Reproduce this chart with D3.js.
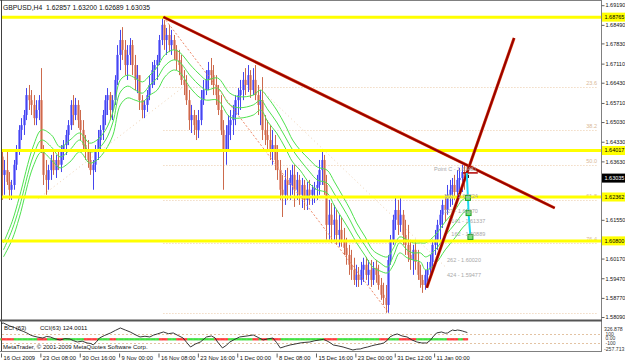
<!DOCTYPE html>
<html>
<head>
<meta charset="utf-8">
<title>GBPUSD,H4</title>
<script src="https://cdn.jsdelivr.net/npm/d3@7"></script>
<style>
  body { margin: 0; background: #fff; }
  svg { display: block; font-family: "Liberation Sans", Arial, sans-serif; }
</style>
</head>
<body>
<svg id="chart" width="625" height="363"></svg>
<script>
// H4 bars, two bars per candle (bar index 2j .. 2j+1)
const firstOpen = 1.6380;
const highs = [
  1.6404,1.6368,1.6404,1.6325,1.6297,1.6368,1.6421,1.6492,1.6517,1.6546,
  1.6624,1.6635,1.6617,1.6599,1.6581,1.6599,1.6695,1.6421,1.6368,1.6351,
  1.6386,1.6404,1.6386,1.6404,1.6421,1.6439,1.6475,1.6510,1.6581,1.6599,
  1.6589,1.6581,1.6546,1.6510,1.6457,1.6439,1.6404,1.6368,1.6421,1.6475,
  1.6492,1.6546,1.6599,1.6624,1.6610,1.6599,1.6670,1.6777,1.6831,1.6841,
  1.6795,1.6777,1.6802,1.6795,1.6742,1.6706,1.6653,1.6599,1.6581,1.6617,
  1.6670,1.6717,1.6724,1.6742,1.6813,1.6877,1.6866,1.6838,1.6849,1.6831,
  1.6813,1.6777,1.6760,1.6742,1.6688,1.6670,1.6617,1.6564,1.6546,1.6528,
  1.6546,1.6617,1.6653,1.6688,1.6717,1.6731,1.6706,1.6670,1.6635,1.6599,
  1.6510,1.6492,1.6528,1.6546,1.6564,1.6599,1.6624,1.6653,1.6681,1.6695,
  1.6706,1.6688,1.6695,1.6706,1.6635,1.6617,1.6663,1.6528,1.6510,1.6492,
  1.6475,1.6457,1.6421,1.6368,1.6315,1.6332,1.6340,1.6332,1.6351,1.6351,
  1.6325,1.6315,1.6304,1.6297,1.6290,1.6297,1.6279,1.6290,1.6315,1.6368,
  1.6404,1.6386,1.6315,1.6226,1.6215,1.6208,1.6190,1.6173,1.6162,1.6126,
  1.6091,1.6066,1.6048,1.6020,1.5995,1.5987,1.6005,1.6020,1.6023,1.6012,
  1.6012,1.6005,1.6012,1.5995,1.5948,1.5931,1.5923,1.6030,1.6101,1.6173,
  1.6237,1.6226,1.6237,1.6190,1.6155,1.6137,1.6084,1.6066,1.6084,1.6048,
  1.5995,1.5959,1.5977,1.6005,1.6030,1.6084,1.6119,1.6155,1.6190,1.6226,
  1.6244,1.6279,1.6297,1.6304,1.6315,1.6332,1.6340,1.6351,1.6357,1.6345
];
const lows = [
  1.6226,1.6244,1.6279,1.6226,1.6226,1.6262,1.6332,1.6386,1.6439,1.6457,
  1.6510,1.6546,1.6528,1.6492,1.6492,1.6510,1.6393,1.6279,1.6244,1.6262,
  1.6297,1.6315,1.6304,1.6332,1.6325,1.6368,1.6386,1.6421,1.6475,1.6492,
  1.6510,1.6482,1.6439,1.6404,1.6368,1.6340,1.6315,1.6262,1.6325,1.6368,
  1.6404,1.6439,1.6492,1.6528,1.6510,1.6510,1.6564,1.6635,1.6688,1.6724,
  1.6670,1.6653,1.6706,1.6670,1.6617,1.6606,1.6546,1.6517,1.6517,1.6539,
  1.6581,1.6624,1.6635,1.6653,1.6706,1.6777,1.6760,1.6742,1.6752,1.6742,
  1.6724,1.6688,1.6670,1.6635,1.6599,1.6564,1.6475,1.6464,1.6457,1.6439,
  1.6446,1.6492,1.6564,1.6599,1.6617,1.6635,1.6599,1.6564,1.6528,1.6457,
  1.6262,1.6351,1.6404,1.6439,1.6457,1.6492,1.6528,1.6546,1.6581,1.6599,
  1.6610,1.6589,1.6599,1.6581,1.6528,1.6492,1.6439,1.6421,1.6404,1.6368,
  1.6351,1.6332,1.6297,1.6226,1.6165,1.6208,1.6226,1.6226,1.6244,1.6201,
  1.6226,1.6208,1.6197,1.6190,1.6190,1.6208,1.6208,1.6215,1.6226,1.6244,
  1.6279,1.6244,1.6084,1.6084,1.6073,1.6084,1.6066,1.6059,1.6059,1.6030,
  1.5995,1.5959,1.5941,1.5923,1.5916,1.5916,1.5923,1.5934,1.5941,1.5923,
  1.5916,1.5923,1.5931,1.5906,1.5870,1.5852,1.5824,1.5824,1.5995,1.6066,
  1.6119,1.6101,1.6112,1.6066,1.6030,1.6005,1.5977,1.5959,1.5977,1.5941,
  1.5913,1.5895,1.5906,1.5923,1.5941,1.5977,1.6030,1.6048,1.6084,1.6126,
  1.6148,1.6173,1.6201,1.6208,1.6226,1.6233,1.6244,1.6254,1.6262,1.6269
];
const closes = [
  1.6315,1.6332,1.6290,1.6262,1.6279,1.6351,1.6404,1.6475,1.6492,1.6528,
  1.6599,1.6581,1.6564,1.6517,1.6546,1.6581,1.6404,1.6315,1.6297,1.6332,
  1.6368,1.6332,1.6368,1.6351,1.6404,1.6421,1.6457,1.6492,1.6564,1.6528,
  1.6564,1.6510,1.6475,1.6421,1.6404,1.6368,1.6332,1.6351,1.6404,1.6439,
  1.6475,1.6528,1.6581,1.6599,1.6546,1.6581,1.6653,1.6742,1.6795,1.6760,
  1.6706,1.6742,1.6777,1.6706,1.6653,1.6670,1.6581,1.6546,1.6564,1.6599,
  1.6635,1.6688,1.6706,1.6724,1.6795,1.6849,1.6795,1.6813,1.6777,1.6795,
  1.6760,1.6724,1.6706,1.6653,1.6635,1.6581,1.6510,1.6528,1.6492,1.6475,
  1.6510,1.6581,1.6617,1.6653,1.6688,1.6670,1.6635,1.6599,1.6546,1.6475,
  1.6404,1.6457,1.6492,1.6510,1.6528,1.6581,1.6599,1.6617,1.6653,1.6635,
  1.6670,1.6617,1.6653,1.6599,1.6564,1.6581,1.6475,1.6457,1.6439,1.6404,
  1.6421,1.6368,1.6332,1.6262,1.6244,1.6297,1.6279,1.6304,1.6315,1.6262,
  1.6297,1.6244,1.6279,1.6226,1.6262,1.6244,1.6262,1.6269,1.6279,1.6332,
  1.6368,1.6279,1.6137,1.6173,1.6137,1.6155,1.6101,1.6119,1.6084,1.6055,
  1.6030,1.5995,1.5977,1.5941,1.5959,1.5941,1.5977,1.5995,1.5959,1.5977,
  1.5941,1.5984,1.5959,1.5923,1.5888,1.5877,1.5852,1.6012,1.6084,1.6155,
  1.6190,1.6137,1.6173,1.6101,1.6066,1.6030,1.6012,1.6048,1.6005,1.5959,
  1.5941,1.5923,1.5959,1.5977,1.6005,1.6066,1.6084,1.6137,1.6173,1.6208,
  1.6190,1.6244,1.6262,1.6279,1.6254,1.6297,1.6304,1.6325,1.6315,1.6304
];

// three green moving averages (bar index -> price)
const maBars = [2,9,15,26,33,41,48,56,64,72,78,85,91,97,103,109,115,121,127,133,140,145,154,162,167,176,186,194,205,211,217,224,231,237,243,251,257,265,271,278,284,289,296,302,308,314,319,324,330,335,341,345,353,361,369,375,380];
const maUpper = [1.6073,1.6148,1.6237,1.6414,1.6475,1.6457,1.6414,1.6439,1.6464,1.6428,1.6439,1.6475,1.6539,1.6653,1.6670,1.6660,1.6646,1.6670,1.6699,1.6742,1.6760,1.6752,1.6706,1.6670,1.6653,1.6660,1.6606,1.6593,1.6599,1.6617,1.6589,1.6546,1.6492,1.6439,1.6404,1.6368,1.6343,1.6332,1.6290,1.6237,1.6190,1.6144,1.6094,1.6048,1.6030,1.6023,1.6055,1.6094,1.6084,1.6073,1.6073,1.6073,1.6101,1.6148,1.6190,1.6226,1.6237];
const maMiddle = [1.6048,1.6119,1.6201,1.6379,1.6439,1.6414,1.6379,1.6404,1.6439,1.6397,1.6404,1.6439,1.6503,1.6610,1.6631,1.6617,1.6606,1.6635,1.6660,1.6702,1.6724,1.6717,1.6667,1.6631,1.6617,1.6624,1.6564,1.6554,1.6564,1.6581,1.6546,1.6503,1.6450,1.6404,1.6368,1.6325,1.6297,1.6286,1.6247,1.6197,1.6151,1.6108,1.6062,1.6023,1.6002,1.5987,1.6027,1.6073,1.6048,1.6037,1.6037,1.6023,1.6048,1.6098,1.6141,1.6176,1.6197];
const maLower = [1.6023,1.6084,1.6165,1.6343,1.6397,1.6368,1.6340,1.6361,1.6397,1.6357,1.6368,1.6404,1.6457,1.6564,1.6589,1.6581,1.6575,1.6599,1.6617,1.6663,1.6688,1.6681,1.6624,1.6589,1.6581,1.6581,1.6521,1.6517,1.6528,1.6546,1.6503,1.6464,1.6411,1.6361,1.6332,1.6283,1.6262,1.6251,1.6204,1.6155,1.6112,1.6073,1.6027,1.5987,1.5973,1.5966,1.5995,1.6037,1.6020,1.6012,1.6005,1.5977,1.5998,1.6048,1.6091,1.6126,1.6148];

// CCI(63) sub window
const cciBars = [0,2,5,7,11,15,18,21,24,26,30,34,37,40,44,48,52,56,59,62,66,70,73,75,78,80,84,89,93,97,101,105,109,113,117,121,124,127,132,136,140,144,148,151,154,158,162,167,171,174,176,180,183,186,190,194,200,205,209,213,217,221,224,227,231,235,239,243,247,251,255,259,262,265,268,270,274,278,282,286,289,292,295,298,301,304,308,311,314,316,319,322,326,330,334,338,342,346,349,351,354,358,361,363,365,367,369,371,373,375,377,379];
const cciValues = [320,325,290,264,230,178,150,115,70,51,25,8,40,30,-10,-34,-5,-13,-50,-77,-60,-98,-110,-140,-60,8,60,115,170,221,178,136,80,30,45,30,70,94,136,100,115,60,8,-90,-183,-120,-77,30,51,10,-77,-204,-150,-77,-20,30,51,72,20,-34,-10,8,-90,-204,-170,-140,-120,-98,-85,-77,-50,-34,-20,-55,-100,-140,-160,-183,-215,-247,-230,-225,-200,-183,-160,-140,-120,-98,-40,30,70,94,51,30,-34,-77,-98,-98,-40,30,115,136,110,115,150,178,165,178,170,157,140,124];
const cciMax = 326.878, cciMin = -257.713, cciNow = 124.0011;
const cciLevels = [100, 0, -100];
// BCI(63) red stretches (bar index ranges), green elsewhere
const bciRed = [[1,10],[30,37],[46,50],[68,78],[89,93],[129,135],[143,151],[174,184],[205,209],[212,216],[221,227],[263,273],[308,314],[324,337],[363,371],[376,379]];
const barCount = 380;

// axes
const timeLabels = ["16 Oct 2009","23 Oct 08:00","30 Oct 16:00","9 Nov 00:00","16 Nov 08:00","23 Nov 16:00","1 Dec 00:00","8 Dec 08:00","15 Dec 16:00","23 Dec 00:00","31 Dec 12:00","11 Jan 00:00"];
const barsPerLabel = 32;
const priceTicks = [1.69190,1.68490,1.67830,1.67110,1.66430,1.65710,1.65030,1.64330,1.63630,1.62950,1.62250,1.61550,1.60850,1.60170,1.59470,1.58770,1.58090];
const title = "GBPUSD,H4  1.62857 1.63200 1.62689 1.63035";
const lastPrice = 1.63035;

// objects
const yellowLevels = [1.68765, 1.64017, 1.62362, 1.60800];
const fibHigh = { bar: 132, price: 1.6877 };
const fibLow = { bar: 315, price: 1.5824 };
const fibLevels = [0, 23.6, 38.2, 50.0, 61.8, 76.4, 100];
const trendLines = [
  { b1: 132, p1: 1.6877, b2: 450, p2: 1.6197 },
  { b1: 346, p1: 1.5913, b2: 417, p2: 1.6802 }
];
const guideLines = [
  { b1: 30, p1: 1.6229, b2: 147, p2: 1.6624 },
  { b1: 210, p1: 1.6624, b2: 362, p2: 1.5984 }
];
const projPath = [
  { bar: 378.5, price: 1.6322 },
  { bar: 379.5, price: 1.6233 },
  { bar: 380, price: 1.6179 },
  { bar: 381.5, price: 1.6094 }
];
const projMarks = [
  { bar: 379.5, price: 1.6233 },
  { bar: 380, price: 1.6179 },
  { bar: 381.5, price: 1.6094 }
];
const projLabels = [
  { text: "Point C - 1.63481", bar: 352, price: 1.6328 },
  { text: "100 - 1.62224", bar: 360, price: 1.6233 },
  { text: "127 - 1.61670", bar: 360, price: 1.6181 },
  { text: "141 - 1.61337", bar: 366, price: 1.6143 },
  { text: "162 - 1.60889", bar: 366, price: 1.6097 },
  { text: "262 - 1.60020", bar: 362.5, price: 1.6004 },
  { text: "424 - 1.59477", bar: 362.5, price: 1.5950 }
];
const pointCMark = { b1: 375.5, b2: 387.5, price: 1.6322 };

const svg = d3.select("#chart");
const x = d3.scaleLinear().domain([0, 486]).range([1, 599]);
const y = d3.scaleLinear().domain([1.58019, 1.69304]).range([319, 2]);
const yCci = d3.scaleLinear().domain([cciMin, cciMax]).range([350.5, 323]);
const axisX = 601.5;
const crisp = v => Math.round(v) + 0.5;
const fmt5 = d3.format(".5f");

svg.append("rect").attr("width", 625).attr("height", 363).attr("fill", "#fff");

svg.append("clipPath").attr("id", "mainClip")
  .append("rect").attr("x", 2).attr("y", 1).attr("width", 599).attr("height", 318);
const main = svg.append("g").attr("clip-path", "url(#mainClip)");

// fibonacci levels
const fibPrice = l => fibHigh.price - l / 100 * (fibHigh.price - fibLow.price);
main.selectAll("line.fib").data(fibLevels).join("line")
  .attr("class", "fib")
  .attr("x1", x(fibHigh.bar)).attr("x2", 598)
  .attr("y1", d => crisp(y(fibPrice(d)))).attr("y2", d => crisp(y(fibPrice(d))))
  .attr("stroke", "#ebc9a6").attr("stroke-dasharray", "1,2");
main.selectAll("text.fib").data(fibLevels.filter(d => d > 0 && d < 100)).join("text")
  .attr("class", "fib")
  .attr("x", 597).attr("y", d => y(fibPrice(d)) - 2)
  .attr("text-anchor", "end").attr("font-size", 5.5).attr("fill", "#d9b896")
  .text(d => d.toFixed(1));

// faint guide lines
main.selectAll("line.guide").data(guideLines).join("line")
  .attr("class", "guide")
  .attr("x1", d => x(d.b1)).attr("y1", d => y(d.p1))
  .attr("x2", d => x(d.b2)).attr("y2", d => y(d.p2))
  .attr("stroke", "#efd2b4").attr("stroke-dasharray", "1,3");

// candles
const candles = closes.map((c, j) => {
  const open = j === 0 ? firstOpen : closes[j - 1];
  return {
    bar: 2 * j + 0.5, open: open, close: c,
    high: Math.max(highs[j], open, c), low: Math.min(lows[j], open, c),
    last: j === closes.length - 1
  };
});
const cg = main.append("g");
candles.forEach(d => {
  const up = d.close >= d.open;
  const cx = crisp(x(d.bar));
  const wick = d.last ? "#000" : (up ? "#4646ee" : "#cc6a4c");
  const body = d.last ? "#222" : (up ? "#8e8eff" : "#eba999");
  const top = y(Math.max(d.open, d.close));
  const h = Math.max(1, y(Math.min(d.open, d.close)) - top);
  cg.append("rect").attr("x", cx - 1.5).attr("y", top).attr("width", 3).attr("height", h)
    .attr("fill", body);
  cg.append("line").attr("x1", cx).attr("x2", cx)
    .attr("y1", y(d.high)).attr("y2", y(d.low))
    .attr("stroke", wick).attr("stroke-width", 1);
});

// moving averages
const maLine = d3.line().x((d, i) => x(maBars[i])).y(d => y(d)).curve(d3.curveCatmullRom);
[maUpper, maMiddle, maLower].forEach(series => {
  main.append("path").attr("d", maLine(series))
    .attr("fill", "none").attr("stroke", "#4ee24e").attr("stroke-width", 1);
});

// fib base line
main.append("line")
  .attr("x1", x(fibHigh.bar)).attr("y1", y(fibHigh.price))
  .attr("x2", x(fibLow.bar)).attr("y2", y(fibLow.price))
  .attr("stroke", "#ee8a6a").attr("stroke-dasharray", "2,2");

// yellow horizontal lines
main.selectAll("line.hl").data(yellowLevels).join("line")
  .attr("class", "hl")
  .attr("x1", 2).attr("x2", 601)
  .attr("y1", d => y(d)).attr("y2", d => y(d))
  .attr("stroke", "#ffff00").attr("stroke-width", 3);

// trend lines
trendLines.forEach(t => {
  const seg = g => g.attr("x1", x(t.b1)).attr("y1", y(t.p1)).attr("x2", x(t.b2)).attr("y2", y(t.p2));
  main.append("line").call(seg).attr("stroke", "#d8380a").attr("stroke-width", 3);
  main.append("line").call(seg).attr("stroke", "#960000").attr("stroke-width", 1.8);
});

// pattern projection
main.append("line")
  .attr("x1", x(pointCMark.b1)).attr("x2", x(pointCMark.b2))
  .attr("y1", y(pointCMark.price)).attr("y2", y(pointCMark.price))
  .attr("stroke", "#b00000").attr("stroke-width", 1.5);
main.append("path")
  .attr("d", d3.line().x(d => x(d.bar)).y(d => y(d.price))(projPath))
  .attr("fill", "none").attr("stroke", "#1ed8f0").attr("stroke-width", 2);
main.selectAll("rect.pm").data(projMarks).join("rect")
  .attr("class", "pm")
  .attr("x", d => x(d.bar) - 2.5).attr("y", d => y(d.price) - 2.5)
  .attr("width", 5).attr("height", 5)
  .attr("fill", "#7ae07a").attr("stroke", "#22a022");
main.selectAll("text.pl").data(projLabels).join("text")
  .attr("class", "pl")
  .attr("x", d => x(d.bar)).attr("y", d => y(d.price))
  .attr("font-size", 5.5).attr("fill", "#a8a8a8")
  .text(d => d.text);

// frame
const frame = svg.append("g").attr("stroke", "#808080").attr("fill", "none");
frame.append("line").attr("x1", 0).attr("x2", 602).attr("y1", 0.5).attr("y2", 0.5);
frame.append("line").attr("x1", 1.5).attr("x2", 1.5).attr("y1", 0).attr("y2", 352).attr("stroke", "#404040");
frame.append("line").attr("x1", axisX).attr("x2", axisX).attr("y1", 0).attr("y2", 352);
frame.append("line").attr("x1", 0).attr("x2", 602).attr("y1", 351.5).attr("y2", 351.5);
frame.append("line").attr("x1", 0).attr("x2", 602).attr("y1", 320.5).attr("y2", 320.5)
  .attr("stroke", "#555").attr("stroke-width", 2);

// price axis: labels hidden behind a price tag are left out, as in the terminal
const tagPrices = yellowLevels.concat([lastPrice]);
const shownTicks = priceTicks.filter(p => tagPrices.every(t => Math.abs(y(p) - y(t)) > 5.5));
const py = svg.append("g").attr("transform", `translate(${axisX},0)`)
  .call(d3.axisRight(y).tickValues(shownTicks).tickFormat(fmt5).tickSize(3).tickPadding(1));
py.select(".domain").remove();
py.selectAll("line").attr("stroke", "#606060");
py.selectAll("text").attr("font-size", 5.5).attr("fill", "#111").attr("font-family", "Liberation Sans, Arial, sans-serif");

// price tags for horizontal lines and last price
svg.selectAll("g.tag").data(yellowLevels).join("g")
  .attr("class", "tag")
  .attr("transform", d => `translate(602,${y(d)})`)
  .each(function (d) {
    const g = d3.select(this);
    g.append("rect").attr("x", 0).attr("y", -4.5).attr("width", 23).attr("height", 9).attr("fill", "#ffff00");
    g.append("text").attr("x", 2.5).attr("dy", "0.34em").attr("font-size", 5.5).attr("fill", "#000")
      .text(fmt5(d));
  });
const lastTag = svg.append("g").attr("transform", `translate(602,${y(lastPrice)})`);
lastTag.append("rect").attr("x", 0).attr("y", -4.5).attr("width", 23).attr("height", 9).attr("fill", "#000");
lastTag.append("text").attr("x", 2.5).attr("dy", "0.34em").attr("font-size", 5.5).attr("fill", "#fff")
  .text(fmt5(lastPrice));

// time axis
const tx = svg.append("g").attr("transform", "translate(0,351.5)")
  .call(d3.axisBottom(x).tickValues(timeLabels.map((_, k) => k * barsPerLabel))
    .tickFormat((d, k) => timeLabels[k]).tickSize(4));
tx.select(".domain").remove();
tx.selectAll("line").attr("stroke", "#606060").attr("y1", 2).attr("y2", 6);
tx.selectAll("text").attr("text-anchor", "start").attr("x", 2).attr("y", 4)
  .attr("font-size", 5.8).attr("fill", "#111").attr("font-family", "Liberation Sans, Arial, sans-serif");

// sub window: CCI + BCI
const sub = svg.append("g");
sub.selectAll("line.lvl").data([100, -100]).join("line")
  .attr("class", "lvl")
  .attr("x1", 2).attr("x2", 601)
  .attr("y1", d => crisp(yCci(d))).attr("y2", d => crisp(yCci(d)))
  .attr("stroke", "#e3c3a3").attr("stroke-dasharray", "2,2");
const isRed = i => bciRed.some(r => i >= r[0] && i <= r[1]);
sub.selectAll("rect.bci").data(d3.range(barCount)).join("rect")
  .attr("class", "bci")
  .attr("x", i => x(i) - 0.8).attr("y", yCci(0) - 0.2)
  .attr("width", 1.6).attr("height", 2.2)
  .attr("fill", i => isRed(i) ? "#ff3b3b" : "#3fe03f");
sub.append("path")
  .attr("d", d3.line().x((d, i) => x(cciBars[i])).y(d => yCci(d))(cciValues))
  .attr("fill", "none").attr("stroke", "#222").attr("stroke-width", 0.9);

const cy = svg.append("g").attr("transform", `translate(${axisX},0)`)
  .call(d3.axisRight(yCci).tickValues(cciLevels).tickFormat(d => d === 0 ? "0.00" : String(d)).tickSize(0).tickPadding(4));
cy.select(".domain").remove();
cy.selectAll("text").attr("font-size", 5).attr("fill", "#333").attr("font-family", "Liberation Sans, Arial, sans-serif");
svg.append("text").attr("x", 604).attr("y", yCci(cciMax) + 7.5).attr("font-size", 5.2).attr("fill", "#333").text(cciMax.toFixed(3));
svg.append("text").attr("x", 604).attr("y", yCci(cciMin)).attr("font-size", 5.2).attr("fill", "#333").text(cciMin.toFixed(3));

// texts
svg.append("text").attr("x", 3).attr("y", 9.5).attr("font-size", 6.8).attr("fill", "#111")
  .attr("xml:space", "preserve").text(title);
svg.append("text").attr("x", 4).attr("y", 330).attr("font-size", 6).attr("fill", "#111").text("BCI (63)");
svg.append("text").attr("x", 40).attr("y", 330).attr("font-size", 6).attr("fill", "#111").text("CCI(63) " + cciNow.toFixed(4));
svg.append("text").attr("x", 3).attr("y", 349).attr("font-size", 6).attr("fill", "#111")
  .text("MetaTrader, \u00a9 2001-2009 MetaQuotes Software Corp.");
</script>
</body>
</html>
